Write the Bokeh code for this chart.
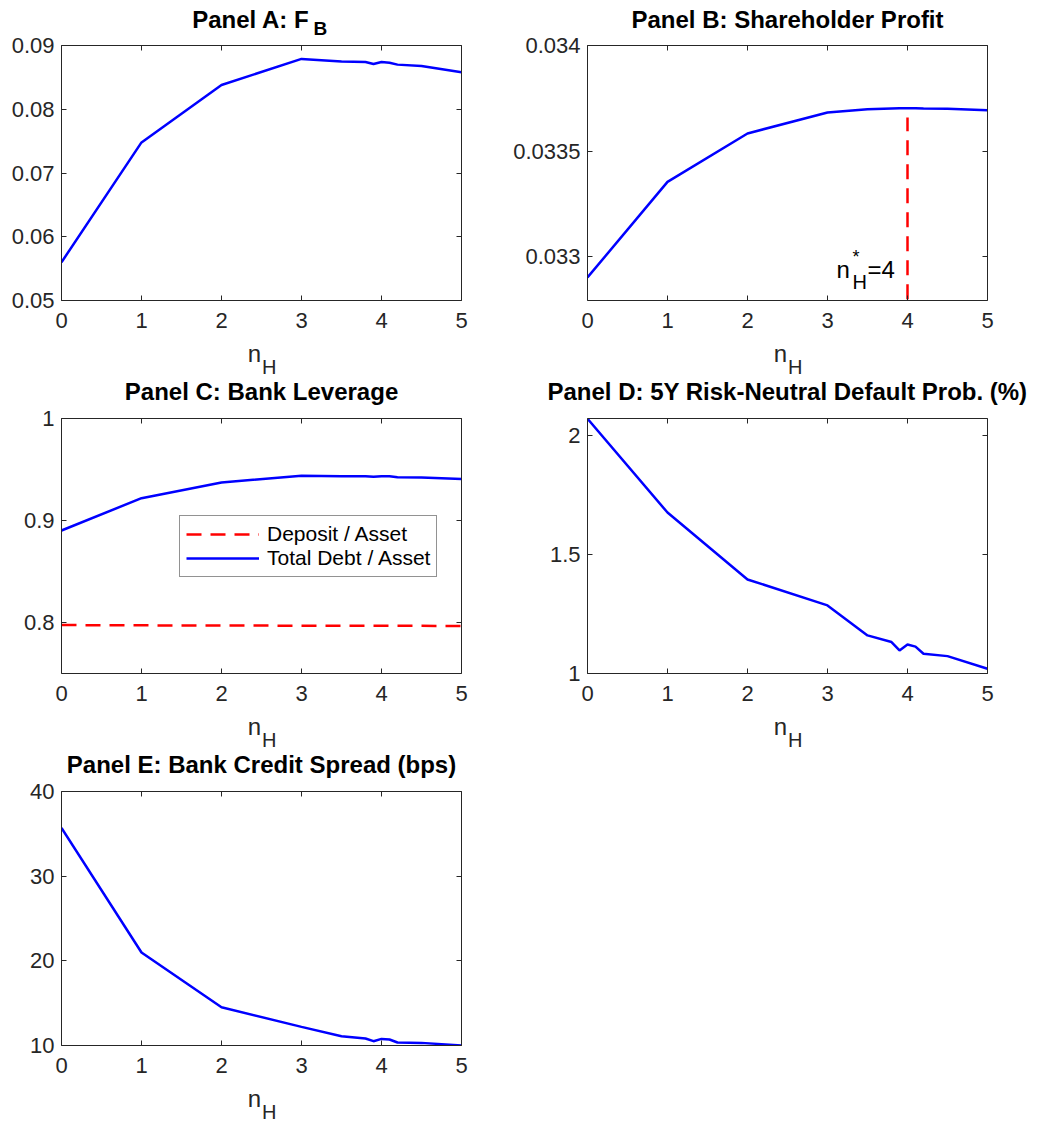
from bokeh.plotting import figure
from bokeh.models import LinearAxis, FixedTicker, Label, Range1d, Legend, LegendItem
from bokeh.layouts import column, row
from bokeh.embed import file_html
from bokeh.resources import INLINE

# ---------------- data ----------------
n_H = [0, 1, 2, 3, 3.5, 3.8, 3.9, 4, 4.1, 4.2, 4.5, 5]
F_B = [0.0560, 0.0748, 0.0838, 0.0879, 0.0875, 0.0874, 0.0871, 0.0874, 0.0873, 0.0870, 0.0868, 0.0858]
profit = [0.032903, 0.033355, 0.033584, 0.033683, 0.033699, 0.033702, 0.033703,
          0.033703, 0.033703, 0.033702, 0.033701, 0.033694]
debt_asset = [0.8902, 0.9219, 0.9373, 0.9438, 0.9435, 0.9434, 0.9428, 0.9435, 0.9433, 0.9425, 0.9422, 0.9408]
deposit_asset = [0.7975, 0.7972, 0.7970, 0.7969, 0.7968, 0.7968, 0.7968, 0.7968, 0.7967, 0.7967, 0.7967, 0.7966]
default_prob = [2.07, 1.676, 1.395, 1.286, 1.160, 1.132, 1.097, 1.122, 1.113, 1.083, 1.073, 1.02]
credit_spread = [35.69, 20.98, 14.51, 12.2, 11.10, 10.82, 10.51, 10.78, 10.71, 10.35, 10.31, 10.0]

nstar = 4
nstar_line_y = [0.0328, 0.03366]

x_ticks = [0, 1, 2, 3, 4, 5]
x_tick_labels = ["0", "1", "2", "3", "4", "5"]
yticks_A = [0.05, 0.06, 0.07, 0.08, 0.09]
ylabels_A = ["0.05", "0.06", "0.07", "0.08", "0.09"]
yticks_B = [0.033, 0.0335, 0.034]
ylabels_B = ["0.033", "0.0335", "0.034"]
yticks_C = [0.8, 0.9, 1.0]
ylabels_C = ["0.8", "0.9", "1"]
yticks_D = [1.0, 1.5, 2.0]
ylabels_D = ["1", "1.5", "2"]
yticks_E = [10, 20, 30, 40]
ylabels_E = ["10", "20", "30", "40"]

title_A, title_A_sub = "Panel A: F", "B"
title_B = "Panel B: Shareholder Profit"
title_C = "Panel C: Bank Leverage"
title_D = "Panel D: 5Y Risk-Neutral Default Prob. (%)"
title_E = "Panel E: Bank Credit Spread (bps)"
xlabel_main, xlabel_sub = "n", "H"
nstar_text = ("n", "H", "*", "=4")
legend_labels = ["Deposit / Asset", "Total Debt / Asset"]

# ---------------- style / layout constants ----------------
FONT = "Liberation Sans"
AX = "#262626"
BLUE = "#0000FF"
RED = "#FF0000"
LW = 2.5
DASH = "15 9"
FW = 400
TOPB, BOTB = 13, 38
WL, WR = 500, 537          # column widths
WT = WL + WR
LB_L, LB_R = 61, 87        # left borders of frames in each column
GAP = 118                  # frame bottom -> next frame top
STRIP_H = GAP - BOTB - TOPB
CX_L = LB_L + FW / 2       # frame centre x (page) of left column
CX_R = WL + LB_R + FW / 2  # frame centre x (page) of right column
BASE_FIX = 0.35            # baseline correction (fraction of font size)
FRAME_TOP_1 = 45


def style_axis(ax, show_labels):
    ax.axis_line_color = AX
    ax.axis_line_width = 1
    ax.major_tick_line_color = AX
    ax.major_tick_in = 5
    ax.major_tick_out = 0
    ax.minor_tick_line_color = None
    ax.major_label_text_font = FONT
    if show_labels:
        ax.major_label_text_color = AX
        ax.major_label_text_font_size = "22px"
    else:
        ax.major_label_text_color = None
        ax.major_label_text_font_size = "1px"
        ax.major_label_standoff = 0


def make_fig(width, left, fh, yr, yticks, ylabels):
    p = figure(width=width, height=TOPB + fh + BOTB, x_range=Range1d(0, 5), y_range=Range1d(*yr),
               output_backend="svg", toolbar_location=None,
               min_border_left=left, min_border_right=width - left - FW,
               min_border_top=TOPB, min_border_bottom=BOTB)
    p.xgrid.visible = False
    p.ygrid.visible = False
    p.outline_line_color = None
    p.border_fill_alpha = 0
    p.background_fill_color = "white"
    p.xaxis.ticker = FixedTicker(ticks=x_ticks)
    p.yaxis.ticker = FixedTicker(ticks=yticks)
    p.xaxis.major_label_overrides = dict(zip(x_ticks, x_tick_labels))
    p.yaxis.major_label_overrides = dict(zip(yticks, ylabels))
    for ax in p.xaxis:
        style_axis(ax, True)
        ax.major_label_standoff = 12
    for ax in p.yaxis:
        style_axis(ax, True)
        ax.major_label_standoff = 7
    top_ax = LinearAxis(ticker=FixedTicker(ticks=x_ticks))
    right_ax = LinearAxis(ticker=FixedTicker(ticks=yticks))
    style_axis(top_ax, False)
    style_axis(right_ax, False)
    p.add_layout(top_ax, "above")
    p.add_layout(right_ax, "right")
    return p


def strip(height, items):
    """A full-width text-only strip; items: (text, x, baseline_from_top, size_px, align, bold, colour)."""
    s = figure(width=WT, height=height, x_range=Range1d(0, WT), y_range=Range1d(0, height),
               output_backend="svg", toolbar_location=None, x_axis_type=None, y_axis_type=None,
               min_border=0, min_border_left=0, min_border_right=0,
               min_border_top=0, min_border_bottom=0)
    try:
        s.frame_align = False
    except Exception:
        pass
    s.xgrid.visible = False
    s.ygrid.visible = False
    s.outline_line_color = None
    for text, x, yt, size, align, bold, col in items:
        s.add_layout(Label(x=x, y=height - yt + BASE_FIX * size, text=text, text_align=align,
                           text_baseline="alphabetic", text_font=FONT,
                           text_font_style="bold" if bold else "normal",
                           text_font_size=f"{size}px", text_color=col))
    return s


def title_item(text, cx, yt):
    return (text, cx, yt, 24, "center", True, "black")


def xlabel_items(cx):
    return [(xlabel_main, cx - 0.5, 61 - BOTB, 24, "right", False, AX),
            (xlabel_sub, cx + 0.5, 73 - BOTB, 20, "left", False, AX)]


TITLE_Y_STRIP = STRIP_H + TOPB - 19   # baseline of a title inside an inter-row strip

# ---------------- panels ----------------
pA = make_fig(WL, LB_L, 255, (0.05, 0.09), yticks_A, ylabels_A)
pA.line(n_H, F_B, line_color=BLUE, line_width=LW)

pB = make_fig(WR, LB_R, 255, (0.032794, 0.034), yticks_B, ylabels_B)
pB.line(n_H, profit, line_color=BLUE, line_width=LW)
pB.line([nstar, nstar], nstar_line_y, line_color=RED, line_width=LW, line_dash=DASH)
for txt, xo, yy, fs, base in [(nstar_text[0], -71, 23 + BASE_FIX * 24, "24px", "alphabetic"),
                              (nstar_text[1], -55, 12 + BASE_FIX * 20, "20px", "alphabetic"),
                              (nstar_text[2], -55, 54, "18px", "top"),
                              (nstar_text[3], -40, 23 + BASE_FIX * 24, "24px", "alphabetic")]:
    pB.add_layout(Label(x=nstar, y=yy, x_offset=xo, x_units="data", y_units="screen",
                        text=txt, text_align="left", text_baseline=base,
                        text_font=FONT, text_font_size=fs, text_color="black"))

pC = make_fig(WL, LB_L, 255, (0.75, 1.0), yticks_C, ylabels_C)
r_dep = pC.line(n_H, deposit_asset, line_color=RED, line_width=LW, line_dash=DASH)
r_tot = pC.line(n_H, debt_asset, line_color=BLUE, line_width=LW)
leg = Legend(items=[LegendItem(label=legend_labels[0], renderers=[r_dep]),
                    LegendItem(label=legend_labels[1], renderers=[r_tot])],
             location=(118, 96))
leg.border_line_color = AX
leg.border_line_width = 1
leg.background_fill_color = "white"
leg.background_fill_alpha = 1
leg.label_text_font = FONT
leg.label_text_font_size = "21px"
leg.label_text_color = "black"
leg.glyph_width = 73
leg.glyph_height = 20
leg.label_height = 20
leg.spacing = 0
leg.padding = 6
leg.margin = 0
leg.label_standoff = 8
pC.add_layout(leg)

pD = make_fig(WR, LB_R, 255, (1.0, 2.071), yticks_D, ylabels_D)
pD.line(n_H, default_prob, line_color=BLUE, line_width=LW)

pE = make_fig(WL, LB_L, 254, (10, 40), yticks_E, ylabels_E)
pE.line(n_H, credit_spread, line_color=BLUE, line_width=LW)

# ---------------- text strips ----------------
# the first strip reaches down to the first frame; the first row overlaps it (transparent borders)
T1 = strip(FRAME_TOP_1, [(title_A, 309, 27, 24, "right", True, "black"),
                         (title_A_sub, 313, 35, 19, "left", True, "black"),
                         title_item(title_B, CX_R, 27)])
S1 = strip(STRIP_H, xlabel_items(CX_L) + xlabel_items(CX_R) +
           [title_item(title_C, CX_L, TITLE_Y_STRIP), title_item(title_D, CX_R, TITLE_Y_STRIP)])
S2 = strip(STRIP_H, xlabel_items(CX_L) + xlabel_items(CX_R) +
           [title_item(title_E, CX_L, TITLE_Y_STRIP)])
S3 = strip(41, xlabel_items(CX_L))

row1 = row(pA, pB, margin=(-TOPB, 0, 0, 0))
layout = column(T1, row1, S1, row(pC, pD), S2, row(pE), S3)
open("out.html", "w").write(file_html(layout, INLINE))
